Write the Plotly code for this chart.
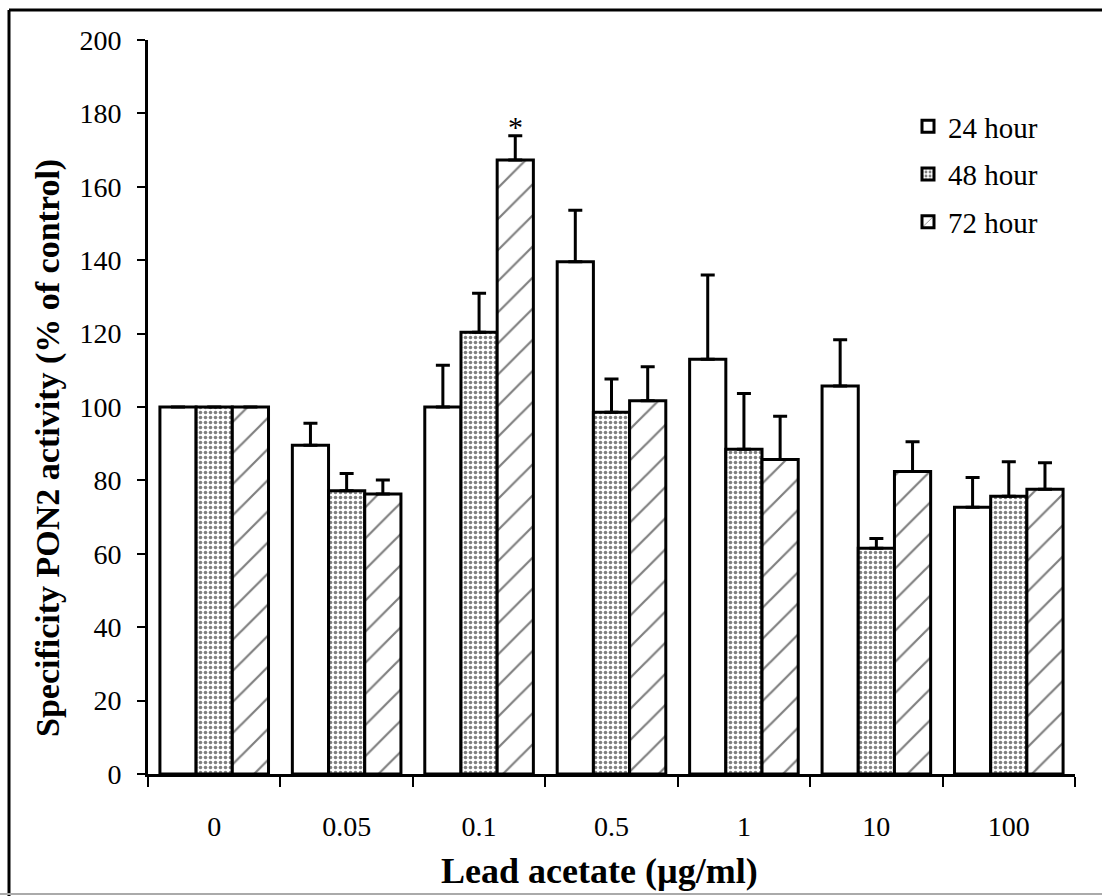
import plotly.graph_objects as go

# Lead acetate concentrations (µg/ml)
categories = ["0", "0.05", "0.1", "0.5", "1", "10", "100"]

# PON2 activity, % of control (mean) and upper error (SD)
mean_24h = [100, 89.6, 100, 139.6, 113, 105.7, 72.7]
err_24h = [0, 6.0, 11.4, 14.0, 23.0, 12.6, 8.1]

mean_48h = [100, 77.2, 120.4, 98.6, 88.5, 61.5, 75.7]
err_48h = [0, 4.7, 10.6, 9.0, 15.2, 2.7, 9.4]

mean_72h = [100, 76.3, 167.3, 101.7, 85.7, 82.4, 77.6]
err_72h = [0, 3.8, 6.6, 9.3, 11.8, 8.1, 7.2]

series_names = ["24 hour", "48 hour", "72 hour"]

FONT = "Liberation Serif, Times New Roman, serif"

W, H = 1102, 896
L, R, T, B = 148, 27, 40, 122
PW, PH = W - L - R, H - T - B
BARGAP = 0.18


def px(x):
    return (x - L) / PW


def py(y):
    return (H - B - y) / PH


def bar(name, y, err, pattern):
    return go.Bar(
        name=name,
        x=categories,
        y=y,
        legendgroup=name,
        marker=dict(
            color="white",
            line=dict(color="black", width=3),
            pattern=pattern,
        ),
        error_y=dict(
            type="data",
            symmetric=False,
            array=err,
            arrayminus=[0] * len(err),
            color="black",
            thickness=3,
            width=7,
        ),
    )


fig = go.Figure()
fig.add_trace(bar(series_names[0], mean_24h, err_24h, dict(shape="")))
fig.add_trace(bar(series_names[1], mean_48h, err_48h,
                  dict(shape=".", fgcolor="black", bgcolor="white", size=5, solidity=0.4)))
fig.add_trace(bar(series_names[2], mean_72h, err_72h,
                  dict(shape="/", fgcolor="black", bgcolor="white", size=22, solidity=0.1)))

# significance marker above the 0.1 µg/ml, 72 hour bar (third bar of group index 2)
bar_w = (1 - BARGAP) / 3
star_idx = categories.index("0.1")
fig.add_annotation(
    x=star_idx + bar_w, y=mean_72h[star_idx] + err_72h[star_idx], yshift=-9,
    text="*", showarrow=False, yanchor="bottom",
    font=dict(family=FONT, size=30, color="black"),
)

# axis titles
fig.add_annotation(
    xref="paper", yref="paper", x=px(48), y=py(448),
    text="<b>Specificity PON2 activity (% of control)</b>", textangle=-90,
    showarrow=False, xanchor="center", yanchor="middle",
    font=dict(family=FONT, size=34, color="black"),
)
fig.add_annotation(
    xref="paper", yref="paper", x=px(599), y=py(871),
    text="<b>Lead acetate (µg/ml)</b>",
    showarrow=False, xanchor="center", yanchor="middle",
    font=dict(family=FONT, size=36, color="black"),
)

# outer frame
fig.add_shape(type="line", xref="paper", yref="paper",
              x0=px(9), x1=px(W + 5), y0=py(10), y1=py(10),
              line=dict(color="black", width=3))
fig.add_shape(type="line", xref="paper", yref="paper",
              x0=px(9), x1=px(9), y0=py(10), y1=py(H + 5),
              line=dict(color="black", width=3))
fig.add_shape(type="line", xref="paper", yref="paper",
              x0=px(0), x1=px(W + 5), y0=py(894), y1=py(894),
              line=dict(color="#aaaaaa", width=2))

fig.update_layout(
    width=W, height=H,
    margin=dict(l=L, r=R, t=T, b=B),
    paper_bgcolor="white",
    plot_bgcolor="white",
    barmode="group",
    bargap=BARGAP,
    bargroupgap=0,
    font=dict(family=FONT, color="black", size=28),
    legend=dict(
        x=px(908), y=py(101), xanchor="left", yanchor="top",
        font=dict(family=FONT, size=29, color="black"),
        bgcolor="rgba(0,0,0,0)",
        tracegroupgap=7,
        itemwidth=30,
    ),
    xaxis=dict(
        showline=True, linecolor="black", linewidth=3,
        ticks="outside", ticklen=10, tickwidth=2, tickcolor="black",
        tickson="boundaries",
        tickfont=dict(family=FONT, size=28, color="black"),
        ticklabelstandoff=25,
        showgrid=False, zeroline=False,
    ),
    yaxis=dict(
        range=[0, 200], dtick=20,
        showline=True, linecolor="black", linewidth=3,
        ticks="outside", ticklen=8, tickwidth=2, tickcolor="black",
        tickfont=dict(family=FONT, size=28, color="black"),
        ticklabelstandoff=10,
        showgrid=False, zeroline=False,
    ),
)

fig.write_html("out.html")
